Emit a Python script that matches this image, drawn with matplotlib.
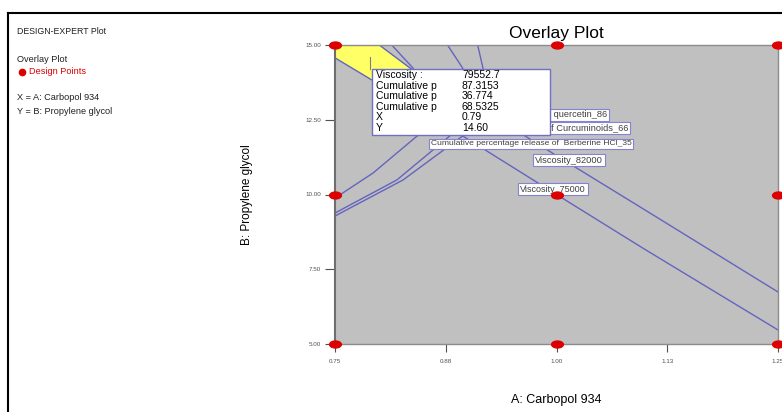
import matplotlib.pyplot as plt
import numpy as np
from matplotlib.markers import MarkerStyle
from matplotlib.transforms import Affine2D
from matplotlib.patches import Rectangle, Polygon
from matplotlib.lines import Line2D

plt.rcParams['font.family'] = ['Liberation Sans', 'DejaVu Sans']

# design points (3x3 factorial)
design_x = [0.75, 1.00, 1.25, 0.75, 1.00, 1.25, 0.75, 1.00, 1.25]
design_y = [15.0, 15.0, 15.0, 10.0, 10.0, 10.0, 5.0, 5.0, 5.0]

# contour lines
visc82_x = [0.80, 0.836, 0.90, 1.00, 1.10, 1.25]
visc82_y = [15.0, 14.20, 13.15, 11.30, 9.48, 6.74]
visc75_x = [0.75, 0.80, 0.90, 1.00, 1.10, 1.25]
visc75_y = [14.57, 13.68, 11.85, 10.00, 8.16, 5.47]

quer_x = [0.814, 0.838, 0.850, 0.850, 0.844, 0.793, 0.75]
quer_y = [15.0, 14.23, 13.33, 12.49, 11.99, 10.72, 9.88]
curc_x = [0.877, 0.894, 0.902, 0.894, 0.874, 0.820, 0.75]
curc_y = [15.0, 14.23, 13.16, 12.32, 11.82, 10.49, 9.38]
berb_x = [0.911, 0.917, 0.920, 0.911, 0.885, 0.827, 0.75]
berb_y = [15.0, 14.23, 13.16, 12.32, 11.76, 10.49, 9.28]

# feasible (yellow) region
yellow_x = [0.75, 0.80, 0.84, 0.86, 0.80, 0.75]
yellow_y = [15.0, 15.0, 14.10, 13.45, 13.68, 14.57]

# flag
flag_x, flag_y = 0.79, 14.60
flag_names = ["Viscosity :", "Cumulative p", "Cumulative p", "Cumulative p", "X", "Y"]
flag_vals = ["79552.7", "87.3153", "36.774", "68.5325", "0.79", "14.60"]

line_col = '#6464c0'

fig = plt.figure(figsize=(7.82, 4.12), dpi=100)
ax = fig.add_axes([335/782, 1-344/412, 443/782, 299/412])
ax.set_facecolor('#c0c0c0')

ax.add_patch(Polygon(np.column_stack([yellow_x, yellow_y]), closed=True,
                     fc='#ffff66', ec='none', zorder=1))

for xs, ys in [(visc82_x, visc82_y), (visc75_x, visc75_y),
               (quer_x, quer_y), (curc_x, curc_y), (berb_x, berb_y)]:
    ax.plot(xs, ys, color=line_col, lw=1.0, zorder=2)

# contour labels (first two partly hidden behind the flag box)
lab = dict(color='#404040', va='center', zorder=3,
           bbox=dict(boxstyle='square,pad=0.2', fc='white', ec='#8484d0', lw=0.8))
ax.text(0.9940, 12.66, " quercetin_86", ha='left', fontsize=6.7, **lab)
ax.text(0.9940, 12.22, "f Curcuminoids_66", ha='left', fontsize=6.7, **lab)
ax.text(0.9712, 11.69, "Cumulative percentage release of  Berberine HCl_35", ha='center',
        fontsize=6.1, **lab)
ax.text(1.0141, 11.15, "Viscosity_82000", ha='center', fontsize=6.7, **lab)
ax.text(0.9961, 10.18, "Viscosity_75000", ha='center', fontsize=6.5, **lab)

# design points
mk = MarkerStyle('o', transform=Affine2D().scale(1.7, 1.0))
ax.plot(design_x, design_y, linestyle='none', marker=mk, markersize=5,
        color='#dd0000', clip_on=False, zorder=6)

# flag box
ax.plot([flag_x, flag_x], [flag_y, 14.197], color='#808080', lw=0.8, zorder=4)
ax.add_patch(Rectangle((0.7918, 11.99), 0.2009, 2.207, fc='white', ec='#7070c0',
                       lw=1.0, zorder=5))
for i, (n, v) in enumerate(zip(flag_names, flag_vals)):
    yy = 13.98 - i*0.351
    ax.text(0.7963, yy, n, fontsize=7.5, va='center', zorder=6)
    ax.text(0.8933, yy, v, fontsize=7.5, va='center', zorder=6)

ax.set_xlim(0.75, 1.25)
ax.set_ylim(5.0, 15.0)
ax.set_xticks([0.75, 0.875, 1.0, 1.125, 1.25])
ax.set_xticklabels(["0.75", "0.88", "1.00", "1.13", "1.25"])
ax.set_yticks([5.0, 7.5, 10.0, 12.5, 15.0])
ax.set_yticklabels(["5.00", "7.50", "10.00", "12.50", "15.00"])
ax.tick_params(axis='x', length=6, pad=5, labelsize=4.5, colors='#505050', width=0.8)
ax.tick_params(axis='y', length=7, pad=3, labelsize=4.5, colors='#505050', width=0.8)
for s in ['top', 'right', 'bottom']:
    ax.spines[s].set_color('#8c8c8c')
    ax.spines[s].set_linewidth(1.0)
ax.spines['left'].set_color('#6e6e6e')
ax.spines['left'].set_linewidth(1.5)

ax.text(0.5, 1.04, "Overlay Plot", transform=ax.transAxes, ha='center', va='center', fontsize=12.5)
ax.set_xlabel("A: Carbopol 934", fontsize=9)
ax.xaxis.set_label_coords(0.5, -0.187)
ax.xaxis.label.set_va('center')
ax.set_ylabel("B: Propylene glycol", fontsize=8.5)
ax.yaxis.set_label_coords(-0.1986, 0.5)
ax.yaxis.label.set_va('center')

# side legend text
def fy(py):
    return 1 - py/412
fs = 6.6
fig.text(17/782, fy(31), "DESIGN-EXPERT Plot", fontsize=6.3, va='center', color='#202020')
fig.text(17/782, fy(59), "Overlay Plot", fontsize=fs, va='center', color='#202020')
fig.add_artist(Line2D([22/782], [fy(72)], marker='o', markersize=4.5, color='#dd0000',
                      transform=fig.transFigure))
fig.text(29/782, fy(72), "Design Points", fontsize=fs, va='center', color='#dd0000')
fig.text(17/782, fy(98), "X = A: Carbopol 934", fontsize=fs, va='center', color='#202020')
fig.text(17/782, fy(111), "Y = B: Propylene glycol", fontsize=fs, va='center', color='#202020')

# outer frame
fig.add_artist(Line2D([8/782, 1.0], [fy(13), fy(13)], color='black', lw=1.5,
                      transform=fig.transFigure))
fig.add_artist(Line2D([8/782, 8/782], [fy(13), 0.0], color='black', lw=1.5,
                      transform=fig.transFigure))

fig.savefig("out.png", dpi=100)
